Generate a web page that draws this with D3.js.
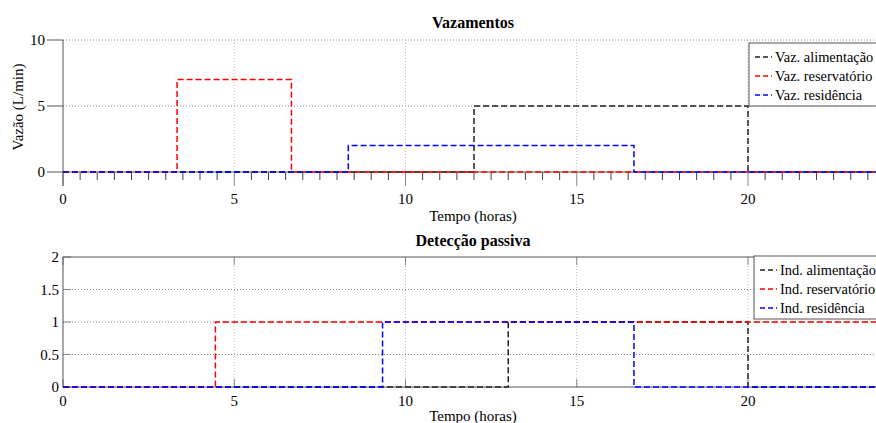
<!DOCTYPE html>
<html>
<head>
<meta charset="utf-8">
<script src="https://cdn.jsdelivr.net/npm/d3@7"></script>
<style>
  body { margin: 0; background: #fff; overflow: hidden; }
  svg { font-family: "Liberation Serif", "Times New Roman", serif; }
</style>
</head>
<body>
<svg id="chart" width="876" height="423"></svg>
<script>
// top chart data (hours, L/min), step after
var topAlimT = [0, 12, 20, 24], topAlimV = [0, 5, 0, 0];
var topResT = [0, 3.33, 6.67, 24], topResV = [0, 7, 0, 0];
var topResidT = [0, 8.33, 16.67, 24], topResidV = [0, 2, 0, 0];
var topNames = ["Vaz. alimentação", "Vaz. reservatório", "Vaz. residência"];

// bottom chart data (indicator)
var botAlimT = [0, 13, 20, 24], botAlimV = [0, 1, 0, 0];
var botResT = [0, 4.45, 24], botResV = [0, 1, 1];
var botResidT = [0, 9.33, 16.67, 24], botResidV = [0, 1, 0, 0];
var botNames = ["Ind. alimentação", "Ind. reservatório", "Ind. residência"];

var xTicks = [0, 5, 10, 15, 20];
var topYTicks = [0, 5, 10];
var botYTicks = [0, 0.5, 1, 1.5, 2];
var colors = ["#222", "#ff0000", "#0000ff"];

var svg = d3.select("#chart");
var x = d3.scaleLinear().domain([0, 24]).range([63, 885]);

function zip(t, v) { return t.map(function (d, i) { return [d, v[i]]; }); }

function drawLines(y, series) {
    var line = d3.line()
        .curve(d3.curveStepAfter)
        .x(function (d) { return x(d[0]); })
        .y(function (d) { return y(d[1]); });
    series.forEach(function (s, i) {
        svg.append("path")
            .datum(s)
            .attr("fill", "none")
            .attr("stroke", colors[i])
            .attr("stroke-width", 1.5)
            .attr("stroke-dasharray", "6,3")
            .attr("d", line);
    });
}

function drawLegend(lx, ly, names) {
    var g = svg.append("g").attr("transform", "translate(" + lx + "," + ly + ")");
    g.append("rect").attr("width", 160).attr("height", 63)
        .attr("fill", "#fff").attr("stroke", "#555");
    names.forEach(function (n, i) {
        var yy = 14 + i * 19;
        g.append("line").attr("x1", 6).attr("x2", 23).attr("y1", yy).attr("y2", yy)
            .attr("stroke", colors[i]).attr("stroke-width", 1.5).attr("stroke-dasharray", "5,3");
        g.append("text").attr("x", 26).attr("y", yy).attr("dy", "0.35em")
            .attr("font-size", 14.4).text(n);
    });
}

// ---------- top chart ----------
var yTop = d3.scaleLinear().domain([0, 10]).range([172, 40]);

// grid
svg.append("g").selectAll("line").data([5, 10]).join("line")
    .attr("x1", x(0)).attr("x2", x(24))
    .attr("y1", function (d) { return yTop(d); }).attr("y2", function (d) { return yTop(d); })
    .attr("stroke", "#888").attr("stroke-dasharray", "1,2");
svg.append("g").selectAll("line").data([5, 10, 15, 20]).join("line")
    .attr("x1", function (d) { return x(d); }).attr("x2", function (d) { return x(d); })
    .attr("y1", yTop(10)).attr("y2", yTop(0))
    .attr("stroke", "#bbb").attr("stroke-dasharray", "1,2");

// x axis with half-hour ticks below
var halfHours = d3.range(0, 24.01, 0.5);
svg.append("g").selectAll("line").data(halfHours).join("line")
    .attr("x1", function (d) { return x(d); }).attr("x2", function (d) { return x(d); })
    .attr("y1", yTop(0))
    .attr("y2", function (d) { return d % 5 === 0 ? yTop(0) + 14 : yTop(0) + 8; })
    .attr("stroke", function (d) { return d % 5 === 0 ? "#888" : "#444"; });
svg.append("line").attr("x1", x(0)).attr("x2", x(24))
    .attr("y1", yTop(0)).attr("y2", yTop(0)).attr("stroke", "#555");
svg.append("g").selectAll("text").data(xTicks).join("text")
    .attr("x", function (d) { return x(d); }).attr("y", 199).attr("dy", "0.35em")
    .attr("text-anchor", "middle").attr("font-size", 15).text(function (d) { return d; });

// y axis
svg.append("line").attr("x1", x(0)).attr("x2", x(0))
    .attr("y1", yTop(10)).attr("y2", yTop(0) + 14).attr("stroke", "#555");
svg.append("g").selectAll("line").data(topYTicks).join("line")
    .attr("x1", x(0) - 16).attr("x2", x(0))
    .attr("y1", function (d) { return yTop(d); }).attr("y2", function (d) { return yTop(d); })
    .attr("stroke", "#555");
svg.append("g").selectAll("text").data(topYTicks).join("text")
    .attr("x", 45).attr("y", function (d) { return yTop(d); }).attr("dy", "0.35em")
    .attr("text-anchor", "end").attr("font-size", 15).text(function (d) { return d; });

drawLines(yTop, [zip(topAlimT, topAlimV), zip(topResT, topResV), zip(topResidT, topResidV)]);

svg.append("text").attr("x", 473).attr("y", 22).attr("dy", "0.35em")
    .attr("text-anchor", "middle").attr("font-size", 16).attr("font-weight", "bold").text("Vazamentos");
svg.append("text").attr("x", 473).attr("y", 216).attr("dy", "0.35em")
    .attr("text-anchor", "middle").attr("font-size", 15).text("Tempo (horas)");
svg.append("text").attr("transform", "translate(18,107) rotate(-90)").attr("dy", "0.35em")
    .attr("text-anchor", "middle").attr("font-size", 15).text("Vazão (L/min)");

drawLegend(749, 43, topNames);

// ---------- bottom chart ----------
var yBot = d3.scaleLinear().domain([0, 2]).range([387, 257]);

svg.append("g").selectAll("line").data([0.5, 1, 1.5]).join("line")
    .attr("x1", x(0)).attr("x2", x(24))
    .attr("y1", function (d) { return yBot(d); }).attr("y2", function (d) { return yBot(d); })
    .attr("stroke", "#888").attr("stroke-dasharray", "1,2");
svg.append("g").selectAll("line").data([5, 10, 15, 20]).join("line")
    .attr("x1", function (d) { return x(d); }).attr("x2", function (d) { return x(d); })
    .attr("y1", yBot(2)).attr("y2", yBot(0))
    .attr("stroke", "#bbb").attr("stroke-dasharray", "1,2");

// inward ticks
svg.append("g").selectAll("line").data(xTicks).join("line")
    .attr("x1", function (d) { return x(d); }).attr("x2", function (d) { return x(d); })
    .attr("y1", yBot(2)).attr("y2", yBot(2) + 8).attr("stroke", "#888");
svg.append("g").selectAll("line").data(xTicks).join("line")
    .attr("x1", function (d) { return x(d); }).attr("x2", function (d) { return x(d); })
    .attr("y1", yBot(0)).attr("y2", yBot(0) - 8).attr("stroke", "#888");
svg.append("g").selectAll("line").data(botYTicks).join("line")
    .attr("x1", x(0)).attr("x2", x(0) + 8)
    .attr("y1", function (d) { return yBot(d); }).attr("y2", function (d) { return yBot(d); })
    .attr("stroke", "#888");

// box
svg.append("rect").attr("x", x(0)).attr("y", yBot(2))
    .attr("width", x(24) - x(0)).attr("height", yBot(0) - yBot(2))
    .attr("fill", "none").attr("stroke", "#555");

svg.append("g").selectAll("text").data(xTicks).join("text")
    .attr("x", function (d) { return x(d); }).attr("y", 401).attr("dy", "0.35em")
    .attr("text-anchor", "middle").attr("font-size", 15).text(function (d) { return d; });
svg.append("g").selectAll("text").data(botYTicks).join("text")
    .attr("x", 59).attr("y", function (d) { return yBot(d); }).attr("dy", "0.35em")
    .attr("text-anchor", "end").attr("font-size", 15).text(function (d) { return d; });

drawLines(yBot, [zip(botAlimT, botAlimV), zip(botResT, botResV), zip(botResidT, botResidV)]);

svg.append("text").attr("x", 473).attr("y", 240).attr("dy", "0.35em")
    .attr("text-anchor", "middle").attr("font-size", 16).attr("font-weight", "bold").text("Detecção passiva");
svg.append("text").attr("x", 473).attr("y", 416).attr("dy", "0.35em")
    .attr("text-anchor", "middle").attr("font-size", 15).text("Tempo (horas)");

drawLegend(754, 256, botNames);
</script>
</body>
</html>
